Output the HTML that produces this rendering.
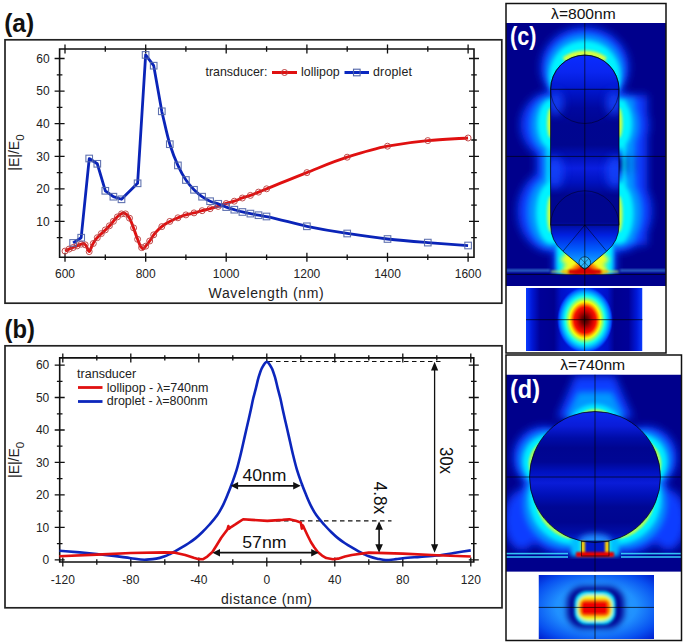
<!DOCTYPE html>
<html><head><meta charset="utf-8"><style>
html,body{margin:0;padding:0;background:#fff;}
body{width:685px;height:644px;overflow:hidden;position:relative;font-family:"Liberation Sans",sans-serif;}
svg{position:absolute;left:0;top:0;}
</style></head><body>
<svg width="685" height="644" viewBox="0 0 685 644">
<rect width="685" height="644" fill="#fff"/>
<rect x="5.0" y="39.8" width="496.8" height="263.4" fill="none" stroke="#222" stroke-width="1.7"/>
<text x="4.2" y="32.4" font-family="'Liberation Sans', sans-serif" font-weight="bold" font-size="26.5px" textLength="30" lengthAdjust="spacingAndGlyphs" fill="#111">(a)</text>
<path d="M59.6,49.0 L474.0,49.0 L474.0,257.3 L59.6,257.3 Z" fill="none" stroke="#111" stroke-width="1.6"/>
<path d="M65.0,44.5 V53.5 M65.0,252.8 V261.8 M105.3,46.3 V51.7 M105.3,254.6 V260.0 M145.7,44.5 V53.5 M145.7,252.8 V261.8 M185.9,46.3 V51.7 M185.9,254.6 V260.0 M226.2,44.5 V53.5 M226.2,252.8 V261.8 M266.6,46.3 V51.7 M266.6,254.6 V260.0 M306.9,44.5 V53.5 M306.9,252.8 V261.8 M347.2,46.3 V51.7 M347.2,254.6 V260.0 M387.5,44.5 V53.5 M387.5,252.8 V261.8 M427.8,46.3 V51.7 M427.8,254.6 V260.0 M468.1,44.5 V53.5 M468.1,252.8 V261.8 M56.8,237.7 H62.4 M471.2,237.7 H476.8 M54.6,221.4 H64.6 M469.0,221.4 H479.0 M56.8,205.1 H62.4 M471.2,205.1 H476.8 M54.6,188.8 H64.6 M469.0,188.8 H479.0 M56.8,172.6 H62.4 M471.2,172.6 H476.8 M54.6,156.3 H64.6 M469.0,156.3 H479.0 M56.8,140.0 H62.4 M471.2,140.0 H476.8 M54.6,123.7 H64.6 M469.0,123.7 H479.0 M56.8,107.4 H62.4 M471.2,107.4 H476.8 M54.6,91.1 H64.6 M469.0,91.1 H479.0 M56.8,74.8 H62.4 M471.2,74.8 H476.8 M54.6,58.5 H64.6 M469.0,58.5 H479.0" stroke="#111" stroke-width="1.3" fill="none"/>
<text x="65.0" y="278.3" text-anchor="middle" font-family="'Liberation Sans', sans-serif" font-size="12px" fill="#222">600</text>
<text x="145.7" y="278.3" text-anchor="middle" font-family="'Liberation Sans', sans-serif" font-size="12px" fill="#222">800</text>
<text x="226.2" y="278.3" text-anchor="middle" font-family="'Liberation Sans', sans-serif" font-size="12px" fill="#222">1000</text>
<text x="306.9" y="278.3" text-anchor="middle" font-family="'Liberation Sans', sans-serif" font-size="12px" fill="#222">1200</text>
<text x="387.5" y="278.3" text-anchor="middle" font-family="'Liberation Sans', sans-serif" font-size="12px" fill="#222">1400</text>
<text x="468.1" y="278.3" text-anchor="middle" font-family="'Liberation Sans', sans-serif" font-size="12px" fill="#222">1600</text>
<text x="49.6" y="225.6" text-anchor="end" font-family="'Liberation Sans', sans-serif" font-size="12px" fill="#222">10</text>
<text x="49.6" y="193.0" text-anchor="end" font-family="'Liberation Sans', sans-serif" font-size="12px" fill="#222">20</text>
<text x="49.6" y="160.5" text-anchor="end" font-family="'Liberation Sans', sans-serif" font-size="12px" fill="#222">30</text>
<text x="49.6" y="127.9" text-anchor="end" font-family="'Liberation Sans', sans-serif" font-size="12px" fill="#222">40</text>
<text x="49.6" y="95.3" text-anchor="end" font-family="'Liberation Sans', sans-serif" font-size="12px" fill="#222">50</text>
<text x="49.6" y="62.7" text-anchor="end" font-family="'Liberation Sans', sans-serif" font-size="12px" fill="#222">60</text>
<text x="208.6" y="298.4" font-family="'Liberation Sans', sans-serif" font-size="14px" textLength="115" lengthAdjust="spacing" fill="#222">Wavelength (nm)</text>
<text transform="translate(19.4,170.7) rotate(-90)" font-family="'Liberation Sans', sans-serif" font-size="14px" fill="#222">|E|/E<tspan font-size="11.5px" dy="4.7">0</tspan></text>
<path d="M65.05,251.07 C66.39,250.42 67.74,249.71 69.08,249.11 C70.42,248.52 71.77,248.03 73.11,247.48 C74.45,246.94 75.80,246.40 77.14,245.85 C78.48,245.31 79.83,244.72 81.17,244.23 C81.98,243.93 82.78,243.41 83.59,243.41 C84.39,243.41 85.20,244.58 86.01,245.53 C87.08,246.79 88.16,251.56 89.23,251.56 C90.17,251.56 91.11,247.32 92.05,245.53 C93.13,243.48 94.20,241.47 95.28,239.99 C96.62,238.14 97.96,236.77 99.31,235.43 C100.65,234.09 101.99,233.09 103.34,231.85 C104.68,230.60 106.02,229.29 107.37,227.94 C108.71,226.58 110.05,225.21 111.40,223.70 C112.74,222.19 114.08,220.26 115.42,218.81 C116.77,217.37 118.11,215.77 119.45,214.90 C120.80,214.04 122.14,212.95 123.48,212.95 C124.43,212.95 125.37,213.63 126.31,214.25 C127.38,214.96 128.46,216.45 129.53,218.16 C130.87,220.31 132.22,224.43 133.56,227.94 C134.90,231.44 136.25,235.92 137.59,239.34 C138.66,242.07 139.74,245.42 140.81,246.83 C141.62,247.89 142.43,249.11 143.23,249.11 C144.04,249.11 144.84,247.19 145.65,246.18 C146.99,244.50 148.34,242.85 149.68,240.97 C151.02,239.08 152.37,236.53 153.71,234.78 C155.05,233.03 156.40,231.55 157.74,230.22 C159.08,228.88 160.43,227.71 161.77,226.63 C163.11,225.56 164.46,224.56 165.80,223.70 C167.14,222.85 168.49,222.12 169.83,221.42 C171.17,220.72 172.52,220.06 173.86,219.47 C175.20,218.87 176.55,218.38 177.89,217.84 C179.23,217.29 180.58,216.69 181.92,216.21 C183.26,215.72 184.61,215.28 185.95,214.90 C188.64,214.15 191.32,213.65 194.01,212.95 C196.70,212.25 199.38,211.37 202.07,210.67 C204.76,209.97 207.44,209.42 210.13,208.71 C212.82,208.01 215.50,207.29 218.19,206.43 C220.88,205.58 223.56,204.36 226.25,203.50 C228.94,202.65 231.62,202.11 234.31,201.22 C237.00,200.33 239.68,198.93 242.37,197.96 C245.06,197.00 247.74,196.32 250.43,195.36 C253.12,194.39 255.80,193.18 258.49,192.10 C261.18,191.01 263.86,189.93 266.55,188.84 C279.98,183.41 293.42,177.81 306.85,172.55 C320.28,167.29 333.72,161.52 347.15,157.24 C360.58,152.95 374.02,148.62 387.45,146.16 C400.88,143.70 414.32,141.80 427.75,140.62 C441.18,139.44 454.62,138.88 468.05,138.02" stroke="#e01010" stroke-width="2.9" fill="none" stroke-linejoin="round"/>
<g fill="none" stroke="#b83838" stroke-width="1.0" opacity="0.9"><circle cx="65.0" cy="251.1" r="3.0"/><circle cx="69.1" cy="249.1" r="3.0"/><circle cx="73.1" cy="247.5" r="3.0"/><circle cx="77.1" cy="245.9" r="3.0"/><circle cx="81.2" cy="244.2" r="3.0"/><circle cx="85.2" cy="244.8" r="3.0"/><circle cx="89.2" cy="251.6" r="3.0"/><circle cx="93.3" cy="243.5" r="3.0"/><circle cx="97.3" cy="237.7" r="3.0"/><circle cx="101.3" cy="233.6" r="3.0"/><circle cx="105.3" cy="229.9" r="3.0"/><circle cx="109.4" cy="225.8" r="3.0"/><circle cx="113.4" cy="221.3" r="3.0"/><circle cx="117.4" cy="216.9" r="3.0"/><circle cx="121.5" cy="213.9" r="3.0"/><circle cx="125.5" cy="213.9" r="3.0"/><circle cx="129.5" cy="218.2" r="3.0"/><circle cx="133.6" cy="227.9" r="3.0"/><circle cx="137.6" cy="239.3" r="3.0"/><circle cx="141.6" cy="247.6" r="3.0"/><circle cx="145.7" cy="246.2" r="3.0"/><circle cx="149.7" cy="241.0" r="3.0"/><circle cx="153.7" cy="234.8" r="3.0"/><circle cx="161.8" cy="226.6" r="3.0"/><circle cx="169.8" cy="221.4" r="3.0"/><circle cx="177.9" cy="217.8" r="3.0"/><circle cx="185.9" cy="214.9" r="3.0"/><circle cx="194.0" cy="212.9" r="3.0"/><circle cx="202.1" cy="210.7" r="3.0"/><circle cx="210.1" cy="208.7" r="3.0"/><circle cx="218.2" cy="206.4" r="3.0"/><circle cx="226.2" cy="203.5" r="3.0"/><circle cx="234.3" cy="201.2" r="3.0"/><circle cx="242.4" cy="198.0" r="3.0"/><circle cx="250.4" cy="195.4" r="3.0"/><circle cx="258.5" cy="192.1" r="3.0"/><circle cx="266.6" cy="188.8" r="3.0"/><circle cx="306.9" cy="172.6" r="3.0"/><circle cx="347.2" cy="157.2" r="3.0"/><circle cx="387.5" cy="146.2" r="3.0"/><circle cx="427.8" cy="140.6" r="3.0"/><circle cx="468.1" cy="138.0" r="3.0"/></g>
<path d="M73.11,242.92 L81.17,237.71 L89.23,158.54 L97.29,163.75 L105.35,190.79 L113.41,196.66 L121.47,199.27 L137.59,183.30 L145.65,54.94 L153.71,65.69 L161.77,111.30 L161.77,111.30 C164.46,122.27 167.14,135.62 169.83,144.21 C172.52,152.80 175.20,159.61 177.89,165.38 C180.58,171.16 183.26,176.13 185.95,180.04 C188.64,183.95 191.32,187.13 194.01,189.82 C196.70,192.50 199.38,194.83 202.07,196.66 C204.76,198.48 207.44,200.11 210.13,201.22 C212.82,202.33 215.50,202.86 218.19,203.83 C220.88,204.79 223.56,206.12 226.25,207.08 C228.94,208.05 231.62,208.88 234.31,209.69 C237.00,210.50 239.68,211.34 242.37,211.97 C245.06,212.61 247.74,213.06 250.43,213.60 C253.12,214.14 255.80,214.75 258.49,215.23 C261.18,215.71 263.86,216.03 266.55,216.53 C279.98,219.03 293.42,223.55 306.85,226.31 C320.28,229.06 333.72,231.39 347.15,233.47 C360.58,235.56 374.02,237.56 387.45,239.01 C400.88,240.46 414.32,241.52 427.75,242.60 C441.18,243.67 454.62,244.55 468.05,245.53" stroke="#0a24b8" stroke-width="2.8" fill="none" stroke-linejoin="round"/>
<g fill="none" stroke="#5064a8" stroke-width="1.1" opacity="0.9"><rect x="69.8" y="239.6" width="6.6" height="6.6"/><rect x="77.9" y="234.4" width="6.6" height="6.6"/><rect x="85.9" y="155.2" width="6.6" height="6.6"/><rect x="94.0" y="160.5" width="6.6" height="6.6"/><rect x="102.0" y="187.5" width="6.6" height="6.6"/><rect x="110.1" y="193.4" width="6.6" height="6.6"/><rect x="118.2" y="196.0" width="6.6" height="6.6"/><rect x="134.3" y="180.0" width="6.6" height="6.6"/><rect x="142.3" y="51.6" width="6.6" height="6.6"/><rect x="150.4" y="62.4" width="6.6" height="6.6"/><rect x="158.5" y="108.0" width="6.6" height="6.6"/><rect x="166.5" y="140.9" width="6.6" height="6.6"/><rect x="174.6" y="162.1" width="6.6" height="6.6"/><rect x="182.6" y="176.7" width="6.6" height="6.6"/><rect x="190.7" y="186.5" width="6.6" height="6.6"/><rect x="198.8" y="193.4" width="6.6" height="6.6"/><rect x="206.8" y="197.9" width="6.6" height="6.6"/><rect x="214.9" y="200.5" width="6.6" height="6.6"/><rect x="222.9" y="203.8" width="6.6" height="6.6"/><rect x="231.0" y="206.4" width="6.6" height="6.6"/><rect x="239.1" y="208.7" width="6.6" height="6.6"/><rect x="247.1" y="210.3" width="6.6" height="6.6"/><rect x="255.2" y="211.9" width="6.6" height="6.6"/><rect x="263.2" y="213.2" width="6.6" height="6.6"/><rect x="303.6" y="223.0" width="6.6" height="6.6"/><rect x="343.9" y="230.2" width="6.6" height="6.6"/><rect x="384.2" y="235.7" width="6.6" height="6.6"/><rect x="424.5" y="239.3" width="6.6" height="6.6"/><rect x="464.8" y="242.2" width="6.6" height="6.6"/></g>
<text x="205.5" y="75.9" font-family="'Liberation Sans', sans-serif" font-size="12.4px" textLength="61.9" fill="#222">transducer:</text>
<path d="M272,72.5 H297" stroke="#e01010" stroke-width="3"/><circle cx="284.5" cy="72.5" r="3.0" fill="none" stroke="#b83838" stroke-width="1.0"/>
<text x="301" y="75.9" font-family="'Liberation Sans', sans-serif" font-size="12.4px" textLength="38.7" fill="#222">lollipop</text>
<path d="M344.5,72.5 H369" stroke="#0a28c0" stroke-width="3"/><rect x="353.5" y="69.2" width="6.6" height="6.6" fill="none" stroke="#5064a8" stroke-width="1.1"/>
<text x="373" y="75.9" font-family="'Liberation Sans', sans-serif" font-size="12.4px" textLength="39" fill="#222">droplet</text>
<rect x="5.0" y="345.8" width="497.0" height="262.0" fill="none" stroke="#222" stroke-width="1.7"/>
<text x="4.6" y="337.8" font-family="'Liberation Sans', sans-serif" font-weight="bold" font-size="26.5px" textLength="30.4" lengthAdjust="spacingAndGlyphs" fill="#111">(b)</text>
<path d="M59.7,357.9 L473.8,357.9 L473.8,562.0 L59.7,562.0 Z" fill="none" stroke="#111" stroke-width="1.6"/>
<path d="M62.8,353.4 V362.4 M62.8,557.5 V566.5 M96.8,355.2 V360.6 M96.8,559.3 V564.7 M130.8,353.4 V362.4 M130.8,557.5 V566.5 M164.8,355.2 V360.6 M164.8,559.3 V564.7 M198.8,353.4 V362.4 M198.8,557.5 V566.5 M232.8,355.2 V360.6 M232.8,559.3 V564.7 M266.8,353.4 V362.4 M266.8,557.5 V566.5 M300.8,355.2 V360.6 M300.8,559.3 V564.7 M334.8,353.4 V362.4 M334.8,557.5 V566.5 M368.8,355.2 V360.6 M368.8,559.3 V564.7 M402.8,353.4 V362.4 M402.8,557.5 V566.5 M436.8,355.2 V360.6 M436.8,559.3 V564.7 M470.8,353.4 V362.4 M470.8,557.5 V566.5 M54.7,559.8 H64.7 M468.8,559.8 H478.8 M56.9,543.6 H62.5 M471.0,543.6 H476.6 M54.7,527.3 H64.7 M468.8,527.3 H478.8 M56.9,511.1 H62.5 M471.0,511.1 H476.6 M54.7,494.9 H64.7 M468.8,494.9 H478.8 M56.9,478.7 H62.5 M471.0,478.7 H476.6 M54.7,462.4 H64.7 M468.8,462.4 H478.8 M56.9,446.2 H62.5 M471.0,446.2 H476.6 M54.7,430.0 H64.7 M468.8,430.0 H478.8 M56.9,413.8 H62.5 M471.0,413.8 H476.6 M54.7,397.5 H64.7 M468.8,397.5 H478.8 M56.9,381.3 H62.5 M471.0,381.3 H476.6 M54.7,365.1 H64.7 M468.8,365.1 H478.8" stroke="#111" stroke-width="1.3" fill="none"/>
<text x="62.8" y="583.5" text-anchor="middle" font-family="'Liberation Sans', sans-serif" font-size="12px" fill="#222">-120</text>
<text x="130.8" y="583.5" text-anchor="middle" font-family="'Liberation Sans', sans-serif" font-size="12px" fill="#222">-80</text>
<text x="198.8" y="583.5" text-anchor="middle" font-family="'Liberation Sans', sans-serif" font-size="12px" fill="#222">-40</text>
<text x="266.8" y="583.5" text-anchor="middle" font-family="'Liberation Sans', sans-serif" font-size="12px" fill="#222">0</text>
<text x="334.8" y="583.5" text-anchor="middle" font-family="'Liberation Sans', sans-serif" font-size="12px" fill="#222">40</text>
<text x="402.8" y="583.5" text-anchor="middle" font-family="'Liberation Sans', sans-serif" font-size="12px" fill="#222">80</text>
<text x="470.8" y="583.5" text-anchor="middle" font-family="'Liberation Sans', sans-serif" font-size="12px" fill="#222">120</text>
<text x="49.3" y="564.0" text-anchor="end" font-family="'Liberation Sans', sans-serif" font-size="12px" fill="#222">0</text>
<text x="49.3" y="531.5" text-anchor="end" font-family="'Liberation Sans', sans-serif" font-size="12px" fill="#222">10</text>
<text x="49.3" y="499.1" text-anchor="end" font-family="'Liberation Sans', sans-serif" font-size="12px" fill="#222">20</text>
<text x="49.3" y="466.6" text-anchor="end" font-family="'Liberation Sans', sans-serif" font-size="12px" fill="#222">30</text>
<text x="49.3" y="434.2" text-anchor="end" font-family="'Liberation Sans', sans-serif" font-size="12px" fill="#222">40</text>
<text x="49.3" y="401.7" text-anchor="end" font-family="'Liberation Sans', sans-serif" font-size="12px" fill="#222">50</text>
<text x="49.3" y="369.3" text-anchor="end" font-family="'Liberation Sans', sans-serif" font-size="12px" fill="#222">60</text>
<text x="221" y="603.9" font-family="'Liberation Sans', sans-serif" font-size="14px" textLength="91" lengthAdjust="spacing" fill="#222">distance (nm)</text>
<text transform="translate(19,478) rotate(-90)" font-family="'Liberation Sans', sans-serif" font-size="14px" fill="#222">|E|/E<tspan font-size="11.5px" dy="4.7">0</tspan></text>
<path d="M268,361.5 H444 M268,520.8 H391.5" stroke="#111" stroke-width="1.2" stroke-dasharray="4.5,3.5" fill="none"/>
<path d="M59.40,550.71 C66.20,551.25 73.00,551.74 79.80,552.34 C85.47,552.83 91.13,553.37 96.80,553.96 C102.47,554.55 108.13,555.21 113.80,555.91 C119.47,556.60 125.13,557.46 130.80,558.18 C135.33,558.75 139.87,559.80 144.40,559.80 C148.37,559.80 152.33,559.25 156.30,558.66 C159.13,558.25 161.97,557.24 164.80,556.23 C166.50,555.63 168.20,554.77 169.90,553.96 C171.60,553.15 173.30,552.28 175.00,551.36 C177.27,550.14 179.53,548.82 181.80,547.47 C184.07,546.12 186.33,544.76 188.60,543.25 C190.87,541.74 193.13,540.20 195.40,538.38 C197.67,536.57 199.93,534.42 202.20,532.22 C204.58,529.91 206.96,527.41 209.34,524.75 C211.95,521.84 214.55,519.09 217.16,515.34 C219.20,512.41 221.24,508.73 223.28,504.63 C224.87,501.45 226.45,497.48 228.04,493.60 C229.34,490.42 230.65,487.09 231.95,483.54 C233.48,479.38 235.01,475.30 236.54,470.24 C237.84,465.93 239.15,460.63 240.45,455.31 C241.92,449.29 243.40,442.29 244.87,435.84 C245.89,431.38 246.91,427.01 247.93,422.54 C248.84,418.56 249.74,414.66 250.65,410.53 C251.50,406.66 252.35,402.11 253.20,398.52 C254.11,394.70 255.01,391.71 255.92,388.14 C256.80,384.68 257.68,380.39 258.56,377.43 C259.66,373.71 260.76,369.99 261.87,368.02 C263.51,365.09 265.16,361.85 266.80,361.85 C268.44,361.85 270.09,365.09 271.73,368.02 C272.84,369.99 273.94,373.71 275.05,377.43 C275.92,380.39 276.80,384.68 277.68,388.14 C278.59,391.71 279.49,394.70 280.40,398.52 C281.25,402.11 282.10,406.66 282.95,410.53 C283.86,414.66 284.76,418.56 285.67,422.54 C286.69,427.01 287.71,431.38 288.73,435.84 C290.20,442.29 291.68,449.29 293.15,455.31 C294.45,460.63 295.76,465.93 297.06,470.24 C298.59,475.30 300.12,479.38 301.65,483.54 C302.95,487.09 304.26,490.42 305.56,493.60 C307.15,497.48 308.73,501.45 310.32,504.63 C312.36,508.73 314.40,512.41 316.44,515.34 C319.05,519.09 321.65,521.84 324.26,524.75 C326.64,527.41 329.02,529.91 331.40,532.22 C333.67,534.42 335.93,536.57 338.20,538.38 C340.47,540.20 342.73,541.74 345.00,543.25 C347.27,544.76 349.53,546.12 351.80,547.47 C354.07,548.82 356.33,550.14 358.60,551.36 C360.30,552.28 362.00,553.15 363.70,553.96 C365.40,554.77 367.10,555.63 368.80,556.23 C371.63,557.24 374.47,558.06 377.30,558.66 C380.13,559.27 382.97,560.12 385.80,560.12 C389.20,560.12 392.60,559.55 396.00,559.15 C398.27,558.89 400.53,558.41 402.80,558.18 C408.47,557.59 414.13,557.31 419.80,556.88 C425.47,556.45 431.13,556.16 436.80,555.58 C442.47,555.00 448.13,553.85 453.80,552.99 C459.47,552.12 465.13,551.25 470.80,550.39" stroke="#0c26bc" stroke-width="2.6" fill="none" stroke-linejoin="round"/>
<path d="M59.40,556.23 L96.80,554.61 L130.80,552.99 L164.80,552.34 L175.00,552.66 L185.20,554.93 L193.70,557.85 L198.80,559.15 L202.71,559.31 L207.30,556.55 L212.40,552.01 L216.65,545.20 L221.24,537.73 L225.15,532.54 L227.36,529.62 L228.38,526.05 L229.06,528.65 L231.10,527.03 L235.35,524.43 L238.75,522.16 L243.17,519.24 L251.84,519.89 L267.31,520.86 L282.61,519.89 L289.24,519.24 L295.70,520.86 L300.80,522.48 L301.82,528.65 L302.84,525.40 L304.54,528.97 L307.60,535.46 L311.00,542.28 L314.40,547.47 L317.80,552.01 L322.05,555.58 L326.30,558.02 L332.93,559.31 L338.20,558.66 L345.00,556.55 L351.80,554.93 L368.80,552.66 L402.80,553.63 L436.80,555.26 L470.80,556.55" stroke="#e01010" stroke-width="2.6" fill="none" stroke-linejoin="round"/>
<path d="M236.6,485.8 H294.7" stroke="#111" stroke-width="1.8"/><path d="M230.6,485.8 l7.5,-3.8 v7.6 Z M300.7,485.8 l-7.5,-3.8 v7.6 Z" fill="#111"/>
<path d="M218.5,552.7 H312.7" stroke="#111" stroke-width="1.8"/><path d="M212.5,552.7 l7.5,-3.8 v7.6 Z M318.7,552.7 l-7.5,-3.8 v7.6 Z" fill="#111"/>
<path d="M434.6,369 V545" stroke="#111" stroke-width="1.3"/><path d="M434.6,361.8 l-3.6,8.6 h7.2 Z M434.6,552.8 l-3.6,-8.6 h7.2 Z" fill="#111"/>
<path d="M379.1,528 V545" stroke="#111" stroke-width="1.6"/><path d="M379.1,521.2 l-3.8,8.6 h7.6 Z M379.1,552.8 l-3.8,-8.6 h7.6 Z" fill="#111"/>
<text x="242.4" y="480.8" font-family="'Liberation Sans', sans-serif" font-size="17px" textLength="44" lengthAdjust="spacingAndGlyphs" fill="#111">40nm</text>
<text x="242.2" y="547.7" font-family="'Liberation Sans', sans-serif" font-size="17px" textLength="44.3" lengthAdjust="spacingAndGlyphs" fill="#111">57nm</text>
<text transform="translate(440,446.9) rotate(90)" font-family="'Liberation Sans', sans-serif" font-size="18.5px" textLength="27.1" lengthAdjust="spacingAndGlyphs" fill="#111">30x</text>
<text transform="translate(374,481.6) rotate(90)" font-family="'Liberation Sans', sans-serif" font-size="18.5px" textLength="32.6" lengthAdjust="spacingAndGlyphs" fill="#111">4.8x</text>
<text x="77.1" y="377.9" font-family="'Liberation Sans', sans-serif" font-size="12.5px" textLength="59.1" fill="#222">transducer</text>
<path d="M78,387.5 H102.5" stroke="#e01010" stroke-width="2.8"/><path d="M78,401.5 H102.5" stroke="#0c26bc" stroke-width="2.8"/>
<text x="106.8" y="392" font-family="'Liberation Sans', sans-serif" font-size="12.5px" textLength="101.6" fill="#222">lollipop - λ=740nm</text>
<text x="106.8" y="405.2" font-family="'Liberation Sans', sans-serif" font-size="12.5px" textLength="100.9" fill="#222">droplet - λ=800nm</text>
<defs>
<filter id="b1" x="-50%" y="-50%" width="200%" height="200%"><feGaussianBlur stdDeviation="1"/></filter>
<filter id="b15" x="-50%" y="-50%" width="200%" height="200%"><feGaussianBlur stdDeviation="1.5"/></filter>
<filter id="b2" x="-50%" y="-50%" width="200%" height="200%"><feGaussianBlur stdDeviation="2"/></filter>
<filter id="b3" x="-50%" y="-50%" width="200%" height="200%"><feGaussianBlur stdDeviation="3"/></filter>
<filter id="b4" x="-50%" y="-50%" width="200%" height="200%"><feGaussianBlur stdDeviation="4"/></filter>
<filter id="b6" x="-50%" y="-50%" width="200%" height="200%"><feGaussianBlur stdDeviation="6"/></filter>
<clipPath id="cc"><rect x="506" y="23" width="160" height="263"/></clipPath>
<clipPath id="cd"><rect x="506" y="374.5" width="175" height="197"/></clipPath>
<clipPath id="cic"><rect x="526" y="288" width="116.5" height="63"/></clipPath>
<clipPath id="cid"><rect x="538.5" y="575" width="115.5" height="64"/></clipPath>
<radialGradient id="hs1" cx="0.5" cy="0.5" r="0.5">
 <stop offset="0.00" stop-color="#400000"/>
 <stop offset="0.12" stop-color="#700000"/>
 <stop offset="0.27" stop-color="#cc0000"/>
 <stop offset="0.38" stop-color="#f81000"/>
 <stop offset="0.44" stop-color="#ff6000"/>
 <stop offset="0.50" stop-color="#ffc000"/>
 <stop offset="0.55" stop-color="#f0ff10"/>
 <stop offset="0.62" stop-color="#90ff70"/>
 <stop offset="0.70" stop-color="#20ffe0"/>
 <stop offset="0.78" stop-color="#00d0ff"/>
 <stop offset="0.86" stop-color="#0090ff"/>
 <stop offset="0.93" stop-color="#0050ff"/>
 <stop offset="1" stop-color="#0030f0" stop-opacity="0"/>
</radialGradient>
<linearGradient id="ibc" x1="0" y1="0" x2="1" y2="0">
 <stop offset="0.00" stop-color="#0a3cff"/>
 <stop offset="0.05" stop-color="#0018d8"/>
 <stop offset="0.12" stop-color="#000098"/>
 <stop offset="0.24" stop-color="#000090"/>
 <stop offset="0.30" stop-color="#0010c8"/>
 <stop offset="0.50" stop-color="#0020f0"/>
 <stop offset="0.70" stop-color="#0010c8"/>
 <stop offset="0.76" stop-color="#000090"/>
 <stop offset="0.88" stop-color="#000098"/>
 <stop offset="0.95" stop-color="#0018d8"/>
 <stop offset="1.00" stop-color="#0a3cff"/>
</linearGradient>
<radialGradient id="idb" cx="0.5" cy="0.5" r="0.7">
 <stop offset="0" stop-color="#30b0ff"/>
 <stop offset="0.5" stop-color="#2090ff"/>
 <stop offset="0.8" stop-color="#0850f0"/>
 <stop offset="1" stop-color="#0020d0"/>
</radialGradient>
<linearGradient id="capc" x1="0" y1="0" x2="0" y2="1">
 <stop offset="0.000" stop-color="#0a2cff"/>
 <stop offset="0.079" stop-color="#0a26f0"/>
 <stop offset="0.172" stop-color="#0014c8"/>
 <stop offset="0.247" stop-color="#0008a0"/>
 <stop offset="0.326" stop-color="#000590"/>
 <stop offset="0.419" stop-color="#00068f"/>
 <stop offset="0.471" stop-color="#0010b8"/>
 <stop offset="0.527" stop-color="#0a1ee0"/>
 <stop offset="0.592" stop-color="#0012c0"/>
 <stop offset="0.653" stop-color="#00068f"/>
 <stop offset="0.778" stop-color="#000690"/>
 <stop offset="0.839" stop-color="#0020e0"/>
 <stop offset="0.909" stop-color="#0060ff"/>
 <stop offset="0.965" stop-color="#10a0ff"/>
 <stop offset="1.000" stop-color="#30c0ff"/>
</linearGradient>
<linearGradient id="capd" x1="0" y1="0" x2="0" y2="1">
 <stop offset="0.000" stop-color="#0a28f0"/>
 <stop offset="0.111" stop-color="#0a1cd8"/>
 <stop offset="0.202" stop-color="#000ca8"/>
 <stop offset="0.279" stop-color="#000590"/>
 <stop offset="0.385" stop-color="#000694"/>
 <stop offset="0.462" stop-color="#0012c0"/>
 <stop offset="0.546" stop-color="#0a1cd8"/>
 <stop offset="0.637" stop-color="#0010b8"/>
 <stop offset="0.729" stop-color="#000794"/>
 <stop offset="0.844" stop-color="#000590"/>
 <stop offset="0.927" stop-color="#000ea8"/>
 <stop offset="1.000" stop-color="#0028e0"/>
</linearGradient>
</defs>
<rect x="506" y="3.5" width="160" height="19.5" fill="#fff"/>
<g clip-path="url(#cc)">
<rect x="506" y="23" width="160" height="263" fill="#00008c"/>
<g filter="url(#b4)" fill="#0a3cff">
<ellipse cx="584.8" cy="67" rx="44" ry="40"/>
<ellipse cx="551.6" cy="125.0" rx="31.0" ry="33.0"/><ellipse cx="618.0" cy="125.0" rx="31.0" ry="33.0"/>
<ellipse cx="551.6" cy="211.0" rx="34.0" ry="41.0"/><ellipse cx="618.0" cy="211.0" rx="34.0" ry="41.0"/>
<rect x="536.6" y="95.0" width="14.0" height="150.0"/><rect x="633.0" y="95.0" width="14.0" height="150.0"/>
<rect x="554" y="236" width="61.6" height="37"/>
</g>
<g filter="url(#b3)" fill="#0098ff">
<ellipse cx="584.8" cy="71" rx="39" ry="37"/>
<ellipse cx="551.6" cy="125.0" rx="21.0" ry="29.0"/><ellipse cx="618.0" cy="125.0" rx="21.0" ry="29.0"/>
<ellipse cx="551.6" cy="212.0" rx="24.0" ry="36.0"/><ellipse cx="618.0" cy="212.0" rx="24.0" ry="36.0"/>
<rect x="542.6" y="98.0" width="8.0" height="145.0"/><rect x="627.0" y="98.0" width="8.0" height="145.0"/>
<rect x="557" y="240" width="55.6" height="33"/>
</g>
<g filter="url(#b2)" fill="#00f4ff">
<circle cx="584.8" cy="76" r="35.5"/>
<ellipse cx="551.6" cy="124.0" rx="14.0" ry="25.0"/><ellipse cx="618.0" cy="124.0" rx="14.0" ry="25.0"/>
<ellipse cx="551.6" cy="213.0" rx="15.5" ry="31.0"/><ellipse cx="618.0" cy="213.0" rx="15.5" ry="31.0"/>
<rect x="547.1" y="100.0" width="3.5" height="142.0"/><rect x="622.5" y="100.0" width="3.5" height="142.0"/>
<rect x="557" y="244" width="55.6" height="29"/>
</g>
<g filter="url(#b15)" fill="#d0ff40">
<path d="M605.56,59.65 A36.20,36.20 0 0 0 564.04,59.65" fill="none" stroke="#e8ff30" stroke-width="5"/>
<ellipse cx="550.6" cy="123.0" rx="3.5" ry="15.0"/><ellipse cx="619.0" cy="123.0" rx="3.5" ry="15.0"/>
<ellipse cx="550.6" cy="214.0" rx="3.5" ry="18.0"/><ellipse cx="619.0" cy="214.0" rx="3.5" ry="18.0"/>
</g>
<g filter="url(#b2)"><path d="M564.9,254.3 L584.8,270.5 L604.7,254.3" fill="none" stroke="#f0ff20" stroke-width="15"/><rect x="563" y="266" width="43.6" height="7" fill="#f0ff20"/></g>
<g filter="url(#b15)">
<path d="M564,274.5 L584.8,257 L605.6,274.5 Z" fill="#ff8000"/>
<path d="M569,275 L584.8,262 L600.6,275 Z" fill="#e00000"/>
</g>
<g filter="url(#b1)"><rect x="551" y="270.6" width="67.6" height="2" fill="#c0ff60" opacity="0.8"/><rect x="561" y="270.3" width="47.6" height="2.6" fill="#ffc000"/><rect x="568" y="270" width="33.6" height="3.5" fill="#d00000"/></g>
<path d="M550.6,89.3 A34.2,34.2 0 0 1 619.0,89.3 V225.0 A34.2,34.2 0 0 1 606.68,251.28 L584.8,269.5 L562.92,251.28 A34.2,34.2 0 0 1 550.6,225.0 Z" fill="url(#capc)"/>
<clipPath id="capclip"><path d="M550.6,89.3 A34.2,34.2 0 0 1 619.0,89.3 V225.0 A34.2,34.2 0 0 1 606.68,251.28 L584.8,269.5 L562.92,251.28 A34.2,34.2 0 0 1 550.6,225.0 Z"/></clipPath>
<g clip-path="url(#capclip)"><g filter="url(#b4)" fill="#1848ff" opacity="0.8">
<ellipse cx="554.6" cy="172.0" rx="9.0" ry="16.0"/><ellipse cx="615.0" cy="172.0" rx="9.0" ry="16.0"/>
<ellipse cx="555.6" cy="103.0" rx="8.0" ry="12.0"/><ellipse cx="614.0" cy="103.0" rx="8.0" ry="12.0"/>
</g></g>
<circle cx="584.8" cy="262.6" r="5.8" fill="#30b8ff"/>
<rect x="506" y="269.6" width="44" height="1.8" fill="#60d8ff" opacity="0.7" filter="url(#b1)"/>
<rect x="620" y="269.6" width="46" height="1.8" fill="#60d8ff" opacity="0.7" filter="url(#b1)"/>
<rect x="506" y="275" width="160" height="11" fill="#00008c"/>
<path d="M584.8,23 V286 M506,156.4 H666 M506,274.5 H666 M550.6,89.3 H619.0 M550.6,225.0 H619.0" stroke="#000" stroke-width="0.9" opacity="0.7" fill="none"/>
<path d="M550.6,89.3 A34.2,34.2 0 0 1 619.0,89.3 V225.0 A34.2,34.2 0 0 1 606.68,251.28 L584.8,269.5 L562.92,251.28 A34.2,34.2 0 0 1 550.6,225.0 Z" stroke="#000" stroke-width="0.9" opacity="0.8" fill="none"/>
<circle cx="584.8" cy="89.3" r="34.2" stroke="#000" stroke-width="0.8" opacity="0.55" fill="none"/>
<path d="M550.6,225.0 A34.2,34.2 0 0 1 619.0,225.0" stroke="#000" stroke-width="0.8" opacity="0.55" fill="none"/>
<path d="M562.92,251.28 L584.8,225.0 L606.68,251.28" stroke="#000" stroke-width="0.8" opacity="0.65" fill="none"/>
<circle cx="584.8" cy="262.6" r="5.8" stroke="#000" stroke-width="0.8" opacity="0.7" fill="none"/>
<path d="M580.7,258.5 l8.2,8.2 M588.9,258.5 l-8.2,8.2" stroke="#000" stroke-width="0.7" opacity="0.6"/>
</g>
<text x="510" y="44.5" font-family="'Liberation Sans', sans-serif" font-weight="bold" font-size="26px" textLength="26.5" lengthAdjust="spacingAndGlyphs" fill="#fff">(c)</text>
<text x="551.1" y="19.4" font-family="'Liberation Sans', sans-serif" font-size="15px" textLength="64.6" lengthAdjust="spacingAndGlyphs" fill="#111">λ=800nm</text>
<g clip-path="url(#cic)">
<rect x="526" y="288" width="116.5" height="63" fill="url(#ibc)"/>
<ellipse cx="585" cy="320" rx="28" ry="33.5" fill="url(#hs1)"/>
<path d="M584.6,288 V351 M526,319.7 H643" stroke="#000" stroke-width="0.9" opacity="0.75"/>
</g>
<rect x="506" y="3.5" width="160" height="349.5" fill="none" stroke="#111" stroke-width="1.5"/>
<rect x="506" y="355" width="175" height="19.5" fill="#fff"/>
<g clip-path="url(#cd)">
<rect x="506" y="374.5" width="175" height="197" fill="#00008c"/>
<g filter="url(#b4)" fill="#0a3cff">
<circle cx="544.0" cy="457.4" r="30.9"/><circle cx="646.0" cy="457.4" r="30.9"/>
<circle cx="563.4" cy="507.5" r="45.6"/><circle cx="626.6" cy="507.5" r="45.6"/>
<path d="M557.0,418 L633.0,418 L615.0,376 L575.0,376 Z"/>
<ellipse cx="522" cy="520" rx="18" ry="30"/><ellipse cx="668" cy="520" rx="18" ry="30"/>
</g>
<g filter="url(#b3)" fill="#0098ff">
<circle cx="547.6" cy="459.8" r="29.1"/><circle cx="642.4" cy="459.8" r="29.1"/>
<circle cx="568.1" cy="503.9" r="44.5"/><circle cx="621.9" cy="503.9" r="44.5"/>
<path d="M565.0,418 L625.0,418 L612.0,392 L578.0,392 Z"/>
</g>
<g filter="url(#b2)" fill="#00f0ff">
<circle cx="550.4" cy="461.6" r="27.3"/><circle cx="639.6" cy="461.6" r="27.3"/>
<circle cx="574.3" cy="499.2" r="45.1"/><circle cx="615.7" cy="499.2" r="45.1"/>
<circle cx="595.0" cy="432.9" r="28.4"/><circle cx="595.0" cy="432.9" r="28.4"/>
</g>
<g filter="url(#b1)" fill="#b8ff50" opacity="0.9">
<circle cx="554.1" cy="463.7" r="25.5"/><circle cx="635.9" cy="463.7" r="25.5"/>
<circle cx="578.5" cy="496.7" r="43.3"/><circle cx="611.5" cy="496.7" r="43.3"/>
<circle cx="595.0" cy="431.9" r="22.9"/><circle cx="595.0" cy="431.9" r="22.9"/>
</g>
<g filter="url(#b2)"><rect x="571" y="536" width="48" height="20" fill="#00c0ff"/></g>
<circle cx="595.0" cy="477.0" r="65.5" fill="url(#capd)"/>
<clipPath id="dcirc"><circle cx="595.0" cy="477.0" r="65.5"/></clipPath>
<g clip-path="url(#dcirc)"><g filter="url(#b3)"><ellipse cx="595.0" cy="541" rx="16" ry="7" fill="#2090ff"/></g></g>
<rect x="581.5" y="541" width="27.5" height="15" fill="#0018c8"/>
<g filter="url(#b1)"><rect x="580.5" y="541" width="4.5" height="14" fill="#ffd000"/><rect x="605" y="541" width="4.5" height="14" fill="#ffd000"/></g>
<g filter="url(#b1)"><rect x="578.5" y="541" width="2" height="14" fill="#00e0ff"/><rect x="609.5" y="541" width="2" height="14" fill="#00e0ff"/></g>
<g opacity="0.9"><rect x="506" y="552.8" width="62" height="1.6" fill="#38d8ff"/><rect x="506" y="556.2" width="62" height="1.6" fill="#38d8ff"/>
<rect x="621" y="552.8" width="60" height="1.6" fill="#38d8ff"/><rect x="621" y="556.2" width="60" height="1.6" fill="#38d8ff"/></g>
<rect x="576" y="552" width="38" height="5" fill="#e80000" filter="url(#b1)"/>
<rect x="506" y="559" width="175" height="13" fill="#00008c"/>
<path d="M595.0,374.5 V572 M506,477.0 H681" stroke="#000" stroke-width="0.9" opacity="0.7" fill="none"/>
<circle cx="595.0" cy="477.0" r="65.5" stroke="#000" stroke-width="0.9" opacity="0.8" fill="none"/>
<rect x="581.5" y="541" width="27.5" height="15" stroke="#000" stroke-width="0.8" opacity="0.7" fill="none"/>
</g>
<text x="510" y="397.7" font-family="'Liberation Sans', sans-serif" font-weight="bold" font-size="26px" textLength="30" lengthAdjust="spacingAndGlyphs" fill="#fff">(d)</text>
<text x="560.2" y="370.4" font-family="'Liberation Sans', sans-serif" font-size="14.2px" textLength="65" lengthAdjust="spacingAndGlyphs" fill="#111">λ=740nm</text>
<g clip-path="url(#cid)">
<rect x="538.5" y="575" width="115.5" height="64" fill="url(#idb)"/>
<g filter="url(#b3)">
<rect x="567" y="586.5" width="57" height="42" rx="16" fill="#000090"/>
</g>
<g filter="url(#b15)">
<rect x="574.5" y="591" width="41" height="33.5" rx="12" fill="#00e0ff"/>
<rect x="577.5" y="595" width="35" height="26" rx="10" fill="#f0ff20"/>
<rect x="579.5" y="599" width="31" height="18" rx="6" fill="#ff8000"/>
<rect x="581" y="601" width="27" height="14" rx="4" fill="#f00000"/>
</g>
<path d="M595,575 V639 M538.5,607.4 H654" stroke="#000" stroke-width="0.9" opacity="0.75"/>
</g>
<rect x="506" y="355" width="175.5" height="285.5" fill="none" stroke="#111" stroke-width="1.5"/>
</svg>
</body></html>
